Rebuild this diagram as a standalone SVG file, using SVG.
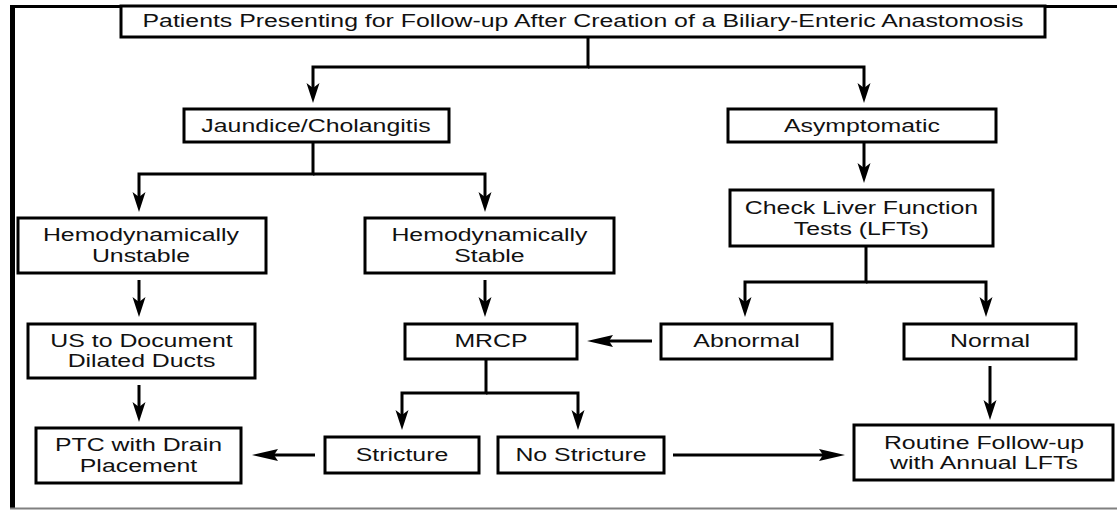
<svg xmlns="http://www.w3.org/2000/svg" width="1117" height="511" viewBox="0 0 1117 511">
<style>
.box { fill: #fff; stroke: #000; stroke-width: 3; }
.lbl { font-family: "Liberation Sans", Arial, Helvetica, sans-serif; font-size: 17.5px; fill: #111; text-anchor: middle; transform-box: fill-box; transform-origin: center; transform: scaleX(1.42); }
.con { fill: none; stroke: #000; stroke-width: 3; stroke-linejoin: miter; }
.v { marker-end: url(#arrV); }
.h { marker-end: url(#arrH); }
</style>
<defs>
<marker id="arrV" markerUnits="userSpaceOnUse" orient="auto" refX="0" refY="0" markerWidth="1" markerHeight="1" overflow="visible">
<path d="M15,0 L-5,-6.5 L0,0 L-5,6.5 Z" fill="#000"/>
</marker>
<marker id="arrH" markerUnits="userSpaceOnUse" orient="auto" refX="0" refY="0" markerWidth="1" markerHeight="1" overflow="visible">
<path d="M22,0 L-4,-6 L0,0 L-4,6 Z" fill="#000"/>
</marker>
</defs>
<rect width="1117" height="511" fill="#fff"/>
<g id="frame">
<line x1="12.5" y1="5" x2="12.5" y2="508" stroke="#000" stroke-width="5"/>
<line x1="10" y1="6.5" x2="1117" y2="6.5" stroke="#000" stroke-width="3"/>
<line x1="10" y1="508.5" x2="1117" y2="508.5" stroke="#808080" stroke-width="2"/>
</g>
<g id="connectors">
<path class="con v" d="M588,37 V67 H313 V88"/>
<path class="con v" d="M588,67 H864 V88"/>
<path class="con v" d="M313,142 V174 H139 V197"/>
<path class="con v" d="M313,174 H485 V197"/>
<path class="con v" d="M864,142 V168"/>
<path class="con v" d="M139,280 V302"/>
<path class="con v" d="M485,280 V302"/>
<path class="con v" d="M139,385 V407"/>
<path class="con v" d="M866,246 V282 H745 V302"/>
<path class="con v" d="M866,282 H986 V302"/>
<path class="con h" d="M652,341 H609"/>
<path class="con v" d="M990,366 V405"/>
<path class="con v" d="M486,359 V393 H402 V415"/>
<path class="con v" d="M486,393 H578 V415"/>
<path class="con h" d="M315,455 H274"/>
<path class="con h" d="M673,455 H823"/>
</g>
<g id="n-top"><rect class="box" x="121" y="6" width="924" height="31"/><text class="lbl" x="583" y="27.5">Patients Presenting for Follow-up After Creation of a Biliary-Enteric Anastomosis</text></g>
<g id="n-jaundice"><rect class="box" x="184" y="109" width="265" height="33"/><text class="lbl" x="316" y="132">Jaundice/Cholangitis</text></g>
<g id="n-asymptomatic"><rect class="box" x="728" y="109" width="268" height="33"/><text class="lbl" x="862" y="132">Asymptomatic</text></g>
<g id="n-check"><rect class="box" x="730" y="190" width="263" height="56"/><text class="lbl" x="861.5" y="213.7">Check Liver Function<tspan x="861.5" y="235">Tests (LFTs)</tspan></text></g>
<g id="n-unstable"><rect class="box" x="18" y="218" width="248" height="55"/><text class="lbl" x="141" y="241.5">Hemodynamically<tspan x="141" y="262.5">Unstable</tspan></text></g>
<g id="n-stable"><rect class="box" x="365" y="218" width="249" height="55"/><text class="lbl" x="489.5" y="241.5">Hemodynamically<tspan x="489.5" y="262.5">Stable</tspan></text></g>
<g id="n-us"><rect class="box" x="28" y="324" width="227" height="54"/><text class="lbl" x="141.5" y="347">US to Document<tspan x="141.5" y="367.5">Dilated Ducts</tspan></text></g>
<g id="n-mrcp"><rect class="box" x="405" y="324" width="172" height="35"/><text class="lbl" x="491" y="347.5">MRCP</text></g>
<g id="n-abnormal"><rect class="box" x="661" y="324" width="171" height="35"/><text class="lbl" x="746.5" y="347.5">Abnormal</text></g>
<g id="n-normal"><rect class="box" x="904" y="324" width="172" height="35"/><text class="lbl" x="990" y="347.5">Normal</text></g>
<g id="n-ptc"><rect class="box" x="36" y="428" width="205" height="55"/><text class="lbl" x="138.5" y="451.5">PTC with Drain<tspan x="138.5" y="472">Placement</tspan></text></g>
<g id="n-stricture"><rect class="box" x="325" y="437" width="154" height="36"/><text class="lbl" x="402" y="461">Stricture</text></g>
<g id="n-nostricture"><rect class="box" x="498" y="437" width="166" height="36"/><text class="lbl" x="581" y="461">No Stricture</text></g>
<g id="n-routine"><rect class="box" x="854" y="425" width="259" height="55"/><text class="lbl" x="984" y="449">Routine Follow-up<tspan x="984" y="469.5">with Annual LFTs</tspan></text></g>
</svg>
